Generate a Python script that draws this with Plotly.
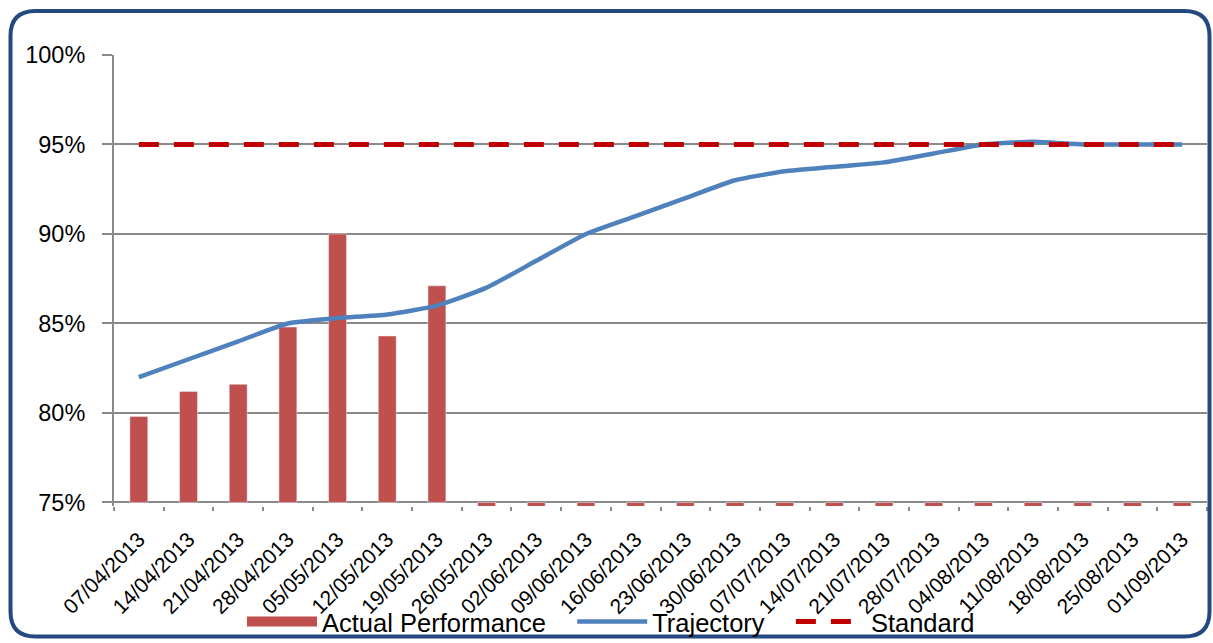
import plotly.graph_objects as go

weeks = ["07/04/2013", "14/04/2013", "21/04/2013", "28/04/2013", "05/05/2013",
         "12/05/2013", "19/05/2013", "26/05/2013", "02/06/2013", "09/06/2013",
         "16/06/2013", "23/06/2013", "30/06/2013", "07/07/2013", "14/07/2013",
         "21/07/2013", "28/07/2013", "04/08/2013", "11/08/2013", "18/08/2013",
         "25/08/2013", "01/09/2013"]
actual = [79.8, 81.2, 81.6, 84.8, 90.0, 84.3, 87.1, 0, 0, 0, 0, 0, 0, 0, 0,
          0, 0, 0, 0, 0, 0, 0]
trajectory = [82.0, 83.0, 84.0, 85.0, 85.3, 85.5, 86.0, 87.0, 88.5, 90.0, 91.0,
              92.0, 93.0, 93.5, 93.75, 94.0, 94.5, 95.0, 95.15, 95.0, 95.0, 95.0]
standard = [95.0] * 22
y_ticks = [75, 80, 85, 90, 95, 100]
y_tick_labels = ["75%", "80%", "85%", "90%", "95%", "100%"]

AXIS_MIN = 75  # value at which the category axis crosses

BAR = "#C0504D"
TRAJ = "#4F81BD"
STD = "#C00000"
GRID = "#8A8A8A"
FONT = "Liberation Sans, Arial, sans-serif"
PAD = "\u00a0\u00a0\u00a0"

W, H = 1213, 643
ML, MR, MT, MB = 114, 6, 55, 137

fig = go.Figure()
# bars grow from the axis crossing (75%) like the original spreadsheet chart
fig.add_trace(go.Bar(x=weeks, y=[v - AXIS_MIN for v in actual], base=AXIS_MIN,
                     marker_color=BAR, name="Actual Performance", showlegend=False))
fig.add_trace(go.Scatter(x=[None], y=[None], mode="lines", name="Actual Performance" + PAD,
                         line=dict(color=BAR, width=15)))
fig.add_trace(go.Scatter(x=weeks, y=trajectory, mode="lines", name="Trajectory" + PAD,
                         line=dict(color=TRAJ, width=4.5, shape="spline", smoothing=0.5)))
fig.add_trace(go.Scatter(x=weeks, y=standard, mode="lines", name="Standard",
                         line=dict(color=STD, width=5, dash="20px,15px")))

pw = W - ML - MR
ph = H - MT - MB


def px(x):
    return (x - ML) / pw


def py(y):
    return (H - MB - y) / ph


x0, x1, y0, y1, r = 10.5, 1209.5, 11, 636.5, 25
rx, ry = r / pw, r / ph
path = (f"M {px(x0)+rx},{py(y0)} L {px(x1)-rx},{py(y0)} Q {px(x1)},{py(y0)} {px(x1)},{py(y0)-ry} "
        f"L {px(x1)},{py(y1)+ry} Q {px(x1)},{py(y1)} {px(x1)-rx},{py(y1)} "
        f"L {px(x0)+rx},{py(y1)} Q {px(x0)},{py(y1)} {px(x0)},{py(y1)+ry} "
        f"L {px(x0)},{py(y0)-ry} Q {px(x0)},{py(y0)} {px(x0)+rx},{py(y0)} Z")
fig.add_shape(type="path", path=path, xref="paper", yref="paper",
              line=dict(color="#23497E", width=4), layer="above")

fig.update_layout(
    width=W, height=H,
    margin=dict(l=ML, r=MR, t=MT, b=MB, autoexpand=False),
    paper_bgcolor="white", plot_bgcolor="white",
    bargap=0.64,
    font=dict(family=FONT, color="black"),
    legend=dict(orientation="h", x=px(242), xanchor="left", y=py(622), yanchor="middle",
                font=dict(size=25.5, family=FONT), itemwidth=70, bgcolor="rgba(0,0,0,0)"),
    xaxis=dict(type="category", tickangle=-45, ticks="outside", tickson="boundaries",
               ticklen=4, tickcolor=GRID, tickwidth=2, showgrid=False, automargin=False,
               showline=False, tickfont=dict(size=21), ticklabelstandoff=16),
    yaxis=dict(range=[74.8, 100], tickvals=y_ticks, ticktext=y_tick_labels,
               ticks="outside", ticklen=10, tickcolor=GRID, tickwidth=2, automargin=False,
               showgrid=True, gridcolor=GRID, gridwidth=2, zeroline=False,
               showline=True, linecolor=GRID, linewidth=2,
               tickfont=dict(size=23.5), ticklabelstandoff=12),
)

fig.write_html("out.html", config={"displayModeBar": False},
               post_script="document.body.style.margin='0';document.body.style.overflow='hidden';")
